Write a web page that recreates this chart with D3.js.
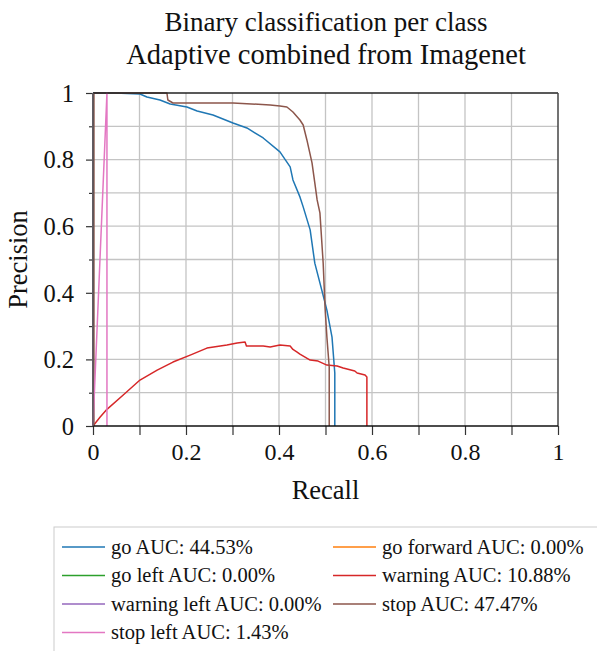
<!DOCTYPE html>
<html>
<head>
<meta charset="utf-8">
<script src="https://cdn.jsdelivr.net/npm/d3@7"></script>
<style>
  body { margin: 0; background: #fff; }
  text { font-family: "Liberation Serif", serif; fill: #111; }
</style>
</head>
<body>
<svg id="chart" width="597" height="651"></svg>
<script>
// series data (recall, precision)
const go_recall = [0, 0.047, 0.101, 0.116, 0.144, 0.166, 0.202, 0.224, 0.258, 0.301, 0.331, 0.366, 0.402, 0.424, 0.43, 0.445, 0.452, 0.467, 0.477, 0.492, 0.503, 0.514, 0.52, 0.52]
const go_precision = [1, 1, 0.997, 0.988, 0.979, 0.967, 0.958, 0.946, 0.934, 0.91, 0.895, 0.865, 0.823, 0.778, 0.739, 0.688, 0.658, 0.589, 0.489, 0.408, 0.348, 0.267, 0.159, 0]

const zero_recall = [0, 0]
const zero_precision = [0, 1]

const warning_recall = [0, 0.015, 0.03, 0.065, 0.101, 0.138, 0.172, 0.209, 0.245, 0.288, 0.31, 0.327, 0.33, 0.338, 0.366, 0.381, 0.402, 0.424, 0.43, 0.439, 0.445, 0.467, 0.484, 0.503, 0.525, 0.538, 0.563, 0.568, 0.585, 0.589, 0.589]
const warning_precision = [0, 0.026, 0.05, 0.093, 0.138, 0.168, 0.192, 0.213, 0.234, 0.243, 0.249, 0.252, 0.24, 0.24, 0.24, 0.237, 0.243, 0.24, 0.23, 0.222, 0.216, 0.198, 0.195, 0.183, 0.18, 0.174, 0.165, 0.159, 0.153, 0.147, 0]

const stop_recall = [0.002, 0.002, 0.159, 0.161, 0.172, 0.301, 0.381, 0.402, 0.417, 0.43, 0.445, 0.452, 0.46, 0.471, 0.477, 0.482, 0.488, 0.495, 0.499, 0.503, 0.508, 0.508]
const stop_precision = [0, 1, 1, 0.979, 0.97, 0.97, 0.964, 0.961, 0.958, 0.943, 0.919, 0.904, 0.859, 0.79, 0.73, 0.679, 0.64, 0.489, 0.357, 0.267, 0.177, 0]

const stop_left_recall = [0, 0.03, 0.03]
const stop_left_precision = [0, 1, 0]

const series = [
  { label: "go AUC: 44.53%", color: "#1f77b4", recall: go_recall, precision: go_precision },
  { label: "go forward AUC: 0.00%", color: "#ff7f0e", recall: zero_recall, precision: zero_precision },
  { label: "go left AUC: 0.00%", color: "#2ca02c", recall: zero_recall, precision: zero_precision },
  { label: "warning AUC: 10.88%", color: "#d62728", recall: warning_recall, precision: warning_precision },
  { label: "warning left AUC: 0.00%", color: "#9467bd", recall: zero_recall, precision: zero_precision },
  { label: "stop AUC: 47.47%", color: "#8c564b", recall: stop_recall, precision: stop_precision },
  { label: "stop left AUC: 1.43%", color: "#e377c2", recall: stop_left_recall, precision: stop_left_precision }
]

const x_ticks = [0, 0.2, 0.4, 0.6, 0.8, 1]
const y_ticks = [0, 0.2, 0.4, 0.6, 0.8, 1]
const grid_ticks = d3.range(0, 11).map(i => i / 10)

const svg = d3.select("#chart")
const plot = { left: 93, top: 93, width: 465, height: 333 }

const x = d3.scaleLinear().domain([0, 1]).range([plot.left, plot.left + plot.width])
const y = d3.scaleLinear().domain([0, 1]).range([plot.top + plot.height, plot.top])
const is_major = d => x_ticks.some(t => Math.abs(t - d) < 1e-9)

// grid
svg.append("g")
  .selectAll("line")
  .data(grid_ticks.slice(1, -1)).enter()
  .append("line")
  .attr("x1", d => x(d)).attr("x2", d => x(d))
  .attr("y1", y(0)).attr("y2", y(1))
  .attr("stroke", "#c4c4c4").attr("stroke-width", 1.3)
svg.append("g")
  .selectAll("line")
  .data(grid_ticks.slice(1, -1)).enter()
  .append("line")
  .attr("x1", x(0)).attr("x2", x(1))
  .attr("y1", d => y(d)).attr("y2", d => y(d))
  .attr("stroke", "#c4c4c4").attr("stroke-width", 1.3)

// axes
const x_axis = d3.axisBottom(x).tickValues(grid_ticks).tickSize(9)
  .tickFormat(d => is_major(d) ? d3.format("~g")(d) : "")
const gx = svg.append("g").attr("transform", `translate(0, ${y(0)})`).call(x_axis)
gx.select(".domain").remove()
gx.selectAll("line").attr("stroke", "#333").attr("stroke-width", 1.2)
gx.selectAll("text").attr("font-size", 24).attr("y", 12).attr("dy", "0.93em").attr("fill", "#111")

const y_axis = d3.axisLeft(y).tickValues(grid_ticks).tickSize(7)
  .tickFormat(d => is_major(d) ? d3.format("~g")(d) : "")
const gy = svg.append("g").attr("transform", `translate(${x(0)}, 0)`).call(y_axis)
gy.select(".domain").remove()
gy.selectAll("line").attr("stroke", "#333").attr("stroke-width", 1.2)
gy.selectAll(".tick").filter(d => !is_major(d)).select("line").attr("x2", -4)
gy.selectAll("text").attr("font-size", 24.5).attr("x", -19).attr("dy", "0.34em").attr("fill", "#111")

// curves
const line = d3.line().x(d => x(d[0])).y(d => y(d[1]))
svg.append("g")
  .selectAll("path")
  .data(series).enter()
  .append("path")
  .attr("d", s => line(s.recall.map((r, i) => [r, s.precision[i]])))
  .attr("fill", "none")
  .attr("stroke", s => s.color)
  .attr("stroke-width", 1.5)
  .attr("stroke-linejoin", "round")

// frame
svg.append("line").attr("x1", x(0)).attr("x2", x(1)).attr("y1", y(1)).attr("y2", y(1))
  .attr("stroke", "#222").attr("stroke-width", 1.5)
svg.append("line").attr("x1", x(1)).attr("x2", x(1)).attr("y1", y(1)).attr("y2", y(0))
  .attr("stroke", "#444").attr("stroke-width", 1.5)
svg.append("line").attr("x1", x(0)).attr("x2", x(1)).attr("y1", y(0)).attr("y2", y(0))
  .attr("stroke", "#111").attr("stroke-width", 1.5)
svg.append("line").attr("x1", x(0)).attr("x2", x(0)).attr("y1", y(1)).attr("y2", y(0))
  .attr("stroke", "#555").attr("stroke-width", 1.5)

// titles
svg.append("text").attr("x", 326).attr("y", 31).attr("text-anchor", "middle")
  .attr("font-size", 27).text("Binary classification per class")
svg.append("text").attr("x", 326).attr("y", 64).attr("text-anchor", "middle")
  .attr("font-size", 28.5).text("Adaptive combined from Imagenet")
svg.append("text").attr("x", x(0.5)).attr("y", 499).attr("text-anchor", "middle")
  .attr("font-size", 26.5).text("Recall")
svg.append("text").attr("transform", `translate(27, ${y(0.5)}) rotate(-90)`)
  .attr("text-anchor", "middle").attr("font-size", 26.5).text("Precision")

// legend
const legend = svg.append("g")
legend.append("rect").attr("x", 54).attr("y", 527).attr("width", 560).attr("height", 140)
  .attr("fill", "#fff").attr("stroke", "#ccc").attr("stroke-width", 1)
const legend_pos = [[0, 0], [1, 0], [0, 1], [1, 1], [0, 2], [1, 2], [0, 3]]
const items = legend.selectAll("g")
  .data(series).enter()
  .append("g")
  .attr("transform", (s, i) => `translate(${legend_pos[i][0] ? 333 : 62}, ${547 + legend_pos[i][1] * 28.5})`)
items.append("line").attr("x1", 0).attr("x2", 43).attr("y1", 0).attr("y2", 0)
  .attr("stroke", s => s.color).attr("stroke-width", 1.5)
items.append("text").attr("x", 49).attr("dy", "0.33em").attr("font-size", 20.5).text(s => s.label)
</script>
</body>
</html>
